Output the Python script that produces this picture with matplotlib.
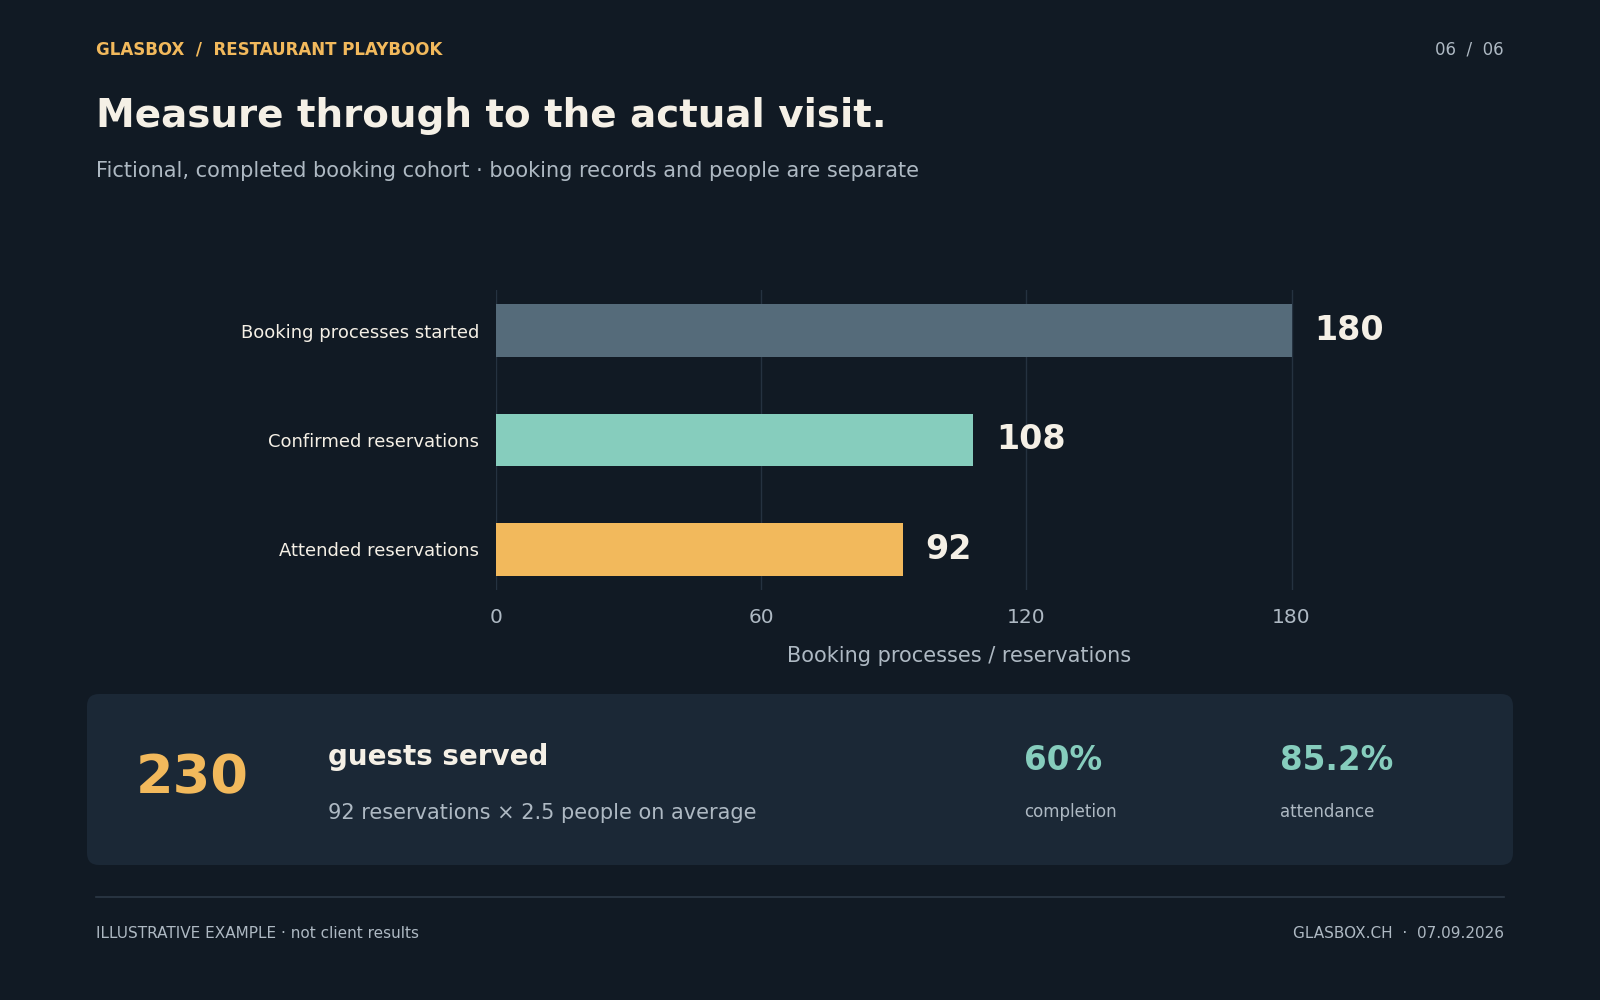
import matplotlib
matplotlib.use("Agg")
import matplotlib.pyplot as plt
from matplotlib.patches import FancyBboxPatch

plt.rcParams['font.family'] = ['DejaVu Sans']

# ---- data ----
categories = ["Booking processes started", "Confirmed reservations", "Attended reservations"]
values = [180, 108, 92]
bar_colors = ["#556b7a", "#86cdbd", "#f2b95c"]
x_ticks = [0, 60, 120, 180]
guests_served = 230
completion_pct = "60%"
attendance_pct = "85.2%"

BG = "#111a24"
CARD = "#1b2836"
CREAM = "#f5f0e6"
GREY = "#aeb9c3"
ORANGE = "#f2b95c"
TEAL = "#86cdbd"
GRID = "#253240"

W, H = 1600, 1000
fig = plt.figure(figsize=(16, 10), dpi=100, facecolor=BG)

# overlay in pixel coordinates
ov = fig.add_axes([0, 0, 1, 1])
ov.set_xlim(0, W)
ov.set_ylim(H, 0)
ov.axis("off")
ov.set_facecolor(BG)

# header
ov.text(96, 49, "GLASBOX  /  RESTAURANT PLAYBOOK", color=ORANGE, fontsize=12,
        fontweight="bold", va="center", ha="left")
ov.text(1504, 49, "06  /  06", color=GREY, fontsize=12, va="center", ha="right")
ov.text(96, 116, "Measure through to the actual visit.", color=CREAM, fontsize=28,
        fontweight="bold", va="center", ha="left")
ov.text(96, 171, "Fictional, completed booking cohort · booking records and people are separate",
        color=GREY, fontsize=15, va="center", ha="left")

# card
card = FancyBboxPatch((87, 694), 1513 - 87, 865 - 694,
                      boxstyle="round,pad=0,rounding_size=12",
                      facecolor=CARD, edgecolor="none")
ov.add_patch(card)
ov.text(136, 778, f"{guests_served}", color=ORANGE, fontsize=39, fontweight="bold",
        va="center", ha="left")
ov.text(328, 757, "guests served", color=CREAM, fontsize=20, fontweight="bold",
        va="center", ha="left")
ov.text(328, 813, f"{values[2]} reservations × 2.5 people on average", color=GREY,
        fontsize=15, va="center", ha="left")
ov.text(1024, 760, completion_pct, color=TEAL, fontsize=23.5, fontweight="bold",
        va="center", ha="left")
ov.text(1024, 812, "completion", color=GREY, fontsize=12, va="center", ha="left")
ov.text(1280, 760, attendance_pct, color=TEAL, fontsize=23.5, fontweight="bold",
        va="center", ha="left")
ov.text(1280, 812, "attendance", color=GREY, fontsize=12, va="center", ha="left")

# footer
ov.plot([96, 1504], [897, 897], color="#2c3946", linewidth=1.2)
ov.text(96, 933, "ILLUSTRATIVE EXAMPLE · not client results", color=GREY, fontsize=11,
        va="center", ha="left")
ov.text(1504, 933, "GLASBOX.CH  ·  07.09.2026", color=GREY, fontsize=11,
        va="center", ha="right")

# bar chart
ax = fig.add_axes([496 / W, 1 - 590 / H, (1422 - 496) / W, 300 / H])
ax.set_facecolor("none")
ypos = list(range(len(categories)))
ax.barh(ypos, values, height=0.48, color=bar_colors, zorder=3)
ax.set_xlim(0, 209.5)
ax.set_ylim(len(categories) - 1 + 0.37, -0.37)
ax.set_xticks(x_ticks)
ax.set_xticklabels([str(t) for t in x_ticks])
ax.set_yticks(ypos)
ax.set_yticklabels(categories)
ax.grid(axis="x", color=GRID, linewidth=1, zorder=0)
ax.grid(axis="y", visible=False)
for s in ax.spines.values():
    s.set_visible(False)
ax.tick_params(axis="x", length=0, colors=GREY, labelsize=14.5, pad=13)
ax.tick_params(axis="y", length=0, colors=CREAM, labelsize=13, pad=12)
ax.set_xlabel("Booking processes / reservations", color=GREY, fontsize=15, labelpad=14)
for y, v in zip(ypos, values):
    ax.annotate(f"{v}", xy=(v, y), xytext=(23, 0), textcoords="offset pixels",
                color=CREAM, fontsize=24, fontweight="bold", va="center", ha="left")

fig.savefig("out.png", dpi=100, facecolor=BG)
